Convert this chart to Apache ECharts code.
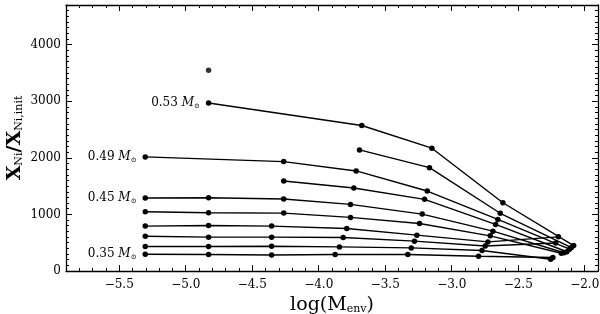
<!DOCTYPE html>
<html><head><meta charset="utf-8">
<script src="https://cdn.jsdelivr.net/npm/echarts@6/dist/echarts.min.js"></script>
<style>html,body{margin:0;padding:0;background:#fff}#c{width:600px;height:314px}</style>
</head><body><div id="c"></div>
<script>
// ---- data ----
const masses = ['0.35','0.37','0.39','0.41','0.43','0.45','0.47','0.49','0.51','0.53'];
const labeledMasses = ['0.35','0.45','0.49','0.53'];
const m035 = [[-5.304,296],[-4.828,291],[-4.354,284],[-3.876,291],[-3.330,291],[-2.798,261],[-2.239,238]];
const m037 = [[-5.304,433],[-4.828,433],[-4.354,438],[-3.844,426],[-3.304,408],[-2.772,362],[-2.256,207]];
const m039 = [[-5.304,615],[-4.828,598],[-4.354,598],[-3.816,592],[-3.280,527],[-2.748,443],[-2.218,496]];
const m041 = [[-5.304,793],[-4.828,805],[-4.354,793],[-3.789,752],[-3.262,633],[-2.728,514],[-2.198,603]];
const m043 = [[-5.304,1046],[-4.828,1028],[-4.263,1023],[-3.761,947],[-3.242,840],[-2.710,621],[-2.176,314]];
const m045 = [[-5.304,1289],[-4.828,1294],[-4.263,1271],[-3.761,1177],[-3.222,1005],[-2.690,704],[-2.155,323]];
const m047 = [[-4.263,1590],[-3.736,1466],[-3.204,1266],[-2.670,823],[-2.134,340]];
const m049 = [[-5.304,2016],[-4.263,1933],[-3.718,1768],[-3.184,1413],[-2.653,911],[-2.114,385]];
const m051 = [[-3.693,2140],[-3.167,1826],[-2.635,1020],[-2.100,415]];
const m053 = [[-4.828,2968],[-3.676,2571],[-3.149,2170],[-2.615,1206],[-2.083,450]];
const extraPoint = [[-4.828,3546]];
const xTickLabels = [-5.5,-5.0,-4.5,-4.0,-3.5,-3.0,-2.5,-2.0];
const yTickLabels = [0,1000,2000,3000,4000];

const seriesData = [m035,m037,m039,m041,m043,m045,m047,m049,m051,m053];

// ---- chart ----
const FONT = 'DejaVu Serif';
const X_MIN = -5.9, X_MAX = -1.9, Y_MIN = 0, Y_MAX = 4700;
const chart = echarts.init(document.getElementById('c'), null, {renderer:'canvas'});

function majorX(pos, showLabel) {
  return {
    type:'value', gridIndex:0, position:pos, min:X_MIN, max:X_MAX, interval:0.1,
    axisLine:{show:true, onZero:false, lineStyle:{color:'#000', width:1.3}},
    axisTick:{show:true, inside:true, length:6, customValues:xTickLabels, lineStyle:{color:'#000', width:1}},
    axisLabel:{show:showLabel, customValues:xTickLabels, color:'#000', fontFamily:FONT, fontSize:12, margin:8,
      formatter:v => Number(v).toFixed(1).replace('-','\u2212')},
    splitLine:{show:false}
  };
}
function minorX(pos) {
  return {
    type:'value', gridIndex:1, position:pos, min:X_MIN, max:X_MAX, interval:0.1,
    axisLine:{show:false, onZero:false},
    axisTick:{show:true, inside:true, length:3, lineStyle:{color:'#000', width:1}},
    axisLabel:{show:false}, splitLine:{show:false}
  };
}
function majorY(pos, showLabel) {
  return {
    type:'value', gridIndex:0, position:pos, min:Y_MIN, max:Y_MAX, interval:100,
    axisLine:{show:true, onZero:false, lineStyle:{color:'#000', width:1.3}},
    axisTick:{show:true, inside:true, length:6, customValues:yTickLabels, lineStyle:{color:'#000', width:1}},
    axisLabel:{show:showLabel, customValues:yTickLabels, color:'#000', fontFamily:FONT, fontSize:12, margin:5,
      formatter:v => String(Math.round(v))},
    splitLine:{show:false}
  };
}
function minorY(pos) {
  return {
    type:'value', gridIndex:1, position:pos, min:Y_MIN, max:Y_MAX, interval:100,
    axisLine:{show:false, onZero:false},
    axisTick:{show:true, inside:true, length:3, lineStyle:{color:'#000', width:1}},
    axisLabel:{show:false}, splitLine:{show:false}
  };
}

const xMain = majorX('bottom', true);
xMain.name = '{a|log(M}{s|env}{a|)}';
xMain.nameLocation = 'middle';
xMain.nameGap = 24;
xMain.nameMoveOverlap = false;
xMain.nameTextStyle = {rich:{
  a:{fontFamily:FONT, fontSize:19, color:'#000'},
  s:{fontFamily:FONT, fontSize:11, color:'#000', padding:[9,0,0,0]}
}};
const yMain = majorY('left', true);
yMain.name = '{a|X}{s|Ni}{a|/X}{s|Ni,init}';
yMain.nameLocation = 'middle';
yMain.nameGap = 41;
yMain.nameRotate = 90;
yMain.nameMoveOverlap = false;
yMain.nameTextStyle = {rich:{
  a:{fontFamily:FONT, fontSize:19, fontWeight:'bold', color:'#000'},
  s:{fontFamily:FONT, fontSize:11, color:'#000', padding:[9,0,0,0]}
}};

const series = seriesData.map((pts, i) => {
  const m = masses[i];
  const data = pts.map((p, j) => {
    const item = {value:p};
    if (j === 0 && labeledMasses.includes(m)) {
      item.label = {show:true, position:'left', distance:6,
        formatter:'{n|' + m + ' }{m|M}{s|\u2299}',
        rich:{
          n:{fontFamily:FONT, fontSize:12, color:'#000'},
          m:{fontFamily:FONT, fontSize:12, fontStyle:'italic', color:'#000'},
          s:{fontFamily:FONT, fontSize:7, color:'#000', padding:[6,0,0,0]}
        }};
    }
    return item;
  });
  return {
    name:m + ' Msun', type:'line', xAxisIndex:0, yAxisIndex:0, data:data,
    symbol:'circle', symbolSize:5.5, showAllSymbol:true, animation:false,
    itemStyle:{color:'#000'}, lineStyle:{color:'#000', width:1.4},
    label:{show:false}, emphasis:{disabled:true}
  };
});
series.push({type:'scatter', xAxisIndex:0, yAxisIndex:0, data:extraPoint, symbol:'circle', symbolSize:5.5,
  itemStyle:{color:'#000'}, animation:false});

chart.setOption({
  backgroundColor:'#fff',
  animation:false,
  grid:[
    {left:66, right:2, top:5, bottom:43, containLabel:false, outerBoundsMode:'none'},
    {left:66, right:2, top:5, bottom:43, containLabel:false, outerBoundsMode:'none'}
  ],
  xAxis:[xMain, majorX('top', false), minorX('bottom'), minorX('top')],
  yAxis:[yMain, majorY('right', false), minorY('left'), minorY('right')],
  series:series
});
</script></body></html>
